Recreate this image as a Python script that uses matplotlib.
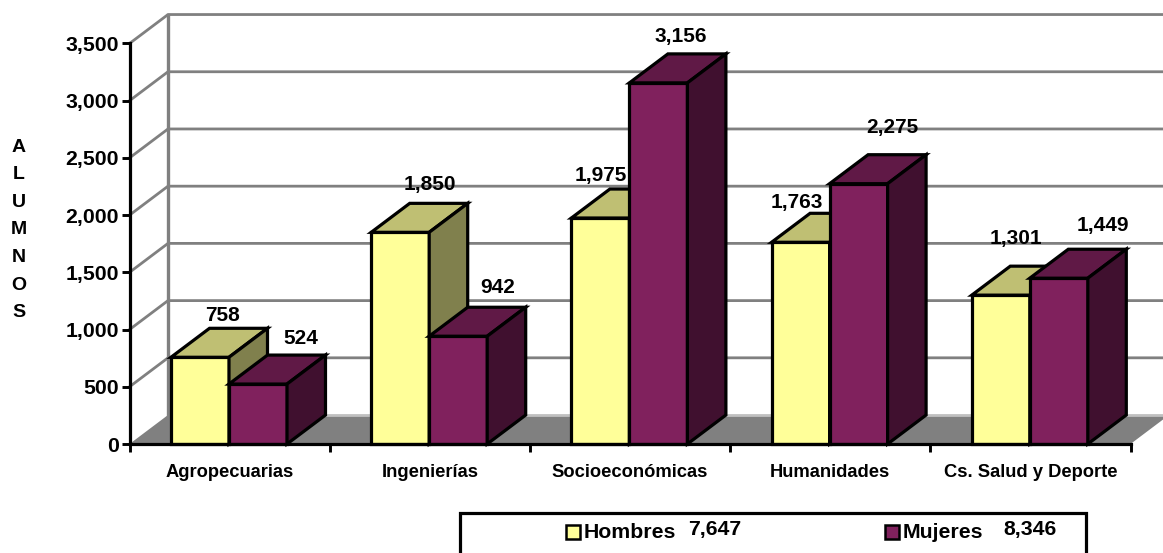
import matplotlib
matplotlib.use('Agg')
import matplotlib.pyplot as plt
from matplotlib.patches import Polygon, Rectangle

plt.rcParams['font.family'] = ['Liberation Sans', 'DejaVu Sans']
plt.rcParams['font.weight'] = 'bold'

categories = ['Agropecuarias', 'Ingenierías', 'Socioeconómicas', 'Humanidades', 'Cs. Salud y Deporte']
hombres = [758, 1850, 1975, 1763, 1301]
mujeres = [524, 942, 3156, 2275, 1449]
total_hombres = '7,647'
total_mujeres = '8,346'
y_ticks = [0, 500, 1000, 1500, 2000, 2500, 3000, 3500]

# label offsets from the top centre of each bar, in pixels
off_h = [(23, 42), (30, 48), (0, 43), (-4, 40), (15, 57)]
off_m = [(43, 46), (39, 49), (22, 46), (34, 56), (44, 53)]

W, H = 1163, 553
fig = plt.figure(figsize=(W / 100, H / 100), dpi=100)
ax = fig.add_axes([129.5 / W, (H - 444) / H, 1001 / W, 400.5 / H])
ax.set_xlim(0, 5)
ax.set_ylim(0, 3500)

# oblique depth in data units
dx = 38.5 / 200.2
dy = 29 / 401 * 3500
bar_w = 58 / 200.2
gap = 41.5 / 200.2


def poly(pts, fc, ec='black', lw=2.3, z=3):
    ax.add_patch(Polygon(pts, closed=True, fc=fc, ec=ec, lw=lw, zorder=z,
                         clip_on=False, joinstyle='miter'))


def bar3d(x, v, front, top, side, z):
    poly([(x, 0), (x + bar_w, 0), (x + bar_w, v), (x, v)], front, z=z)
    poly([(x, v), (x + bar_w, v), (x + bar_w + dx, v + dy), (x + dx, v + dy)], top, z=z)
    poly([(x + bar_w, 0), (x + bar_w + dx, dy), (x + bar_w + dx, v + dy), (x + bar_w, v)], side, z=z)


# floor and walls
grey = '#808080'
poly([(0, 0), (dx, dy), (5 + dx, dy), (5, 0)], grey, ec='none', lw=0, z=1)
ax.plot([dx, 5 + dx], [dy, dy], color='#c0c0c0', lw=2, zorder=1, clip_on=False)
for v in y_ticks[1:]:
    ax.plot([0, dx, 5 + dx], [v, v + dy, v + dy], color=grey, lw=2, zorder=1, clip_on=False)
ax.plot([dx, dx], [dy, 3500 + dy], color=grey, lw=2.4, zorder=1, clip_on=False)

for i in range(len(categories)):
    x = i + gap
    bar3d(x, hombres[i], '#FFFF99', '#BFBF73', '#80804D', 3)
    bar3d(x + bar_w, mujeres[i], '#80215D', '#601946', '#40102F', 4)
    ax.annotate(f'{hombres[i]:,}', (x + bar_w / 2, hombres[i]), xytext=off_h[i],
                textcoords='offset pixels', ha='center', va='center', fontsize=15,
                fontweight='bold', zorder=6, annotation_clip=False)
    ax.annotate(f'{mujeres[i]:,}', (x + 1.5 * bar_w, mujeres[i]), xytext=off_m[i],
                textcoords='offset pixels', ha='center', va='center', fontsize=15,
                fontweight='bold', zorder=6, annotation_clip=False)

# axes
for s in ['top', 'right']:
    ax.spines[s].set_visible(False)
for s in ['left', 'bottom']:
    ax.spines[s].set_linewidth(2.3)
    ax.spines[s].set_zorder(5)
ax.patch.set_visible(False)
ax.set_yticks(y_ticks)
ax.set_yticklabels([f'{v:,}' for v in y_ticks], fontsize=15.3, fontweight='bold')
ax.tick_params(axis='y', length=6, width=2.1, pad=1.5)
ax.set_xticks(range(6))
ax.set_xticklabels([])
ax.tick_params(axis='x', which='major', length=6, width=2.1)
ax.set_xticks([i + 0.5 for i in range(5)], minor=True)
ax.set_xticklabels(categories, minor=True, fontsize=13.2, fontweight='bold')
ax.tick_params(axis='x', which='minor', length=0, pad=14.5)

fig.text(19 / W, 1 - 230 / H, '\n'.join('ALUMNOS'), ha='center', va='center',
         fontsize=14, fontweight='bold', linespacing=1.81)

# legend box, cut by the lower edge of the picture
fig.patches.append(Rectangle((460 / W, -0.02), 626 / W, 0.02 + (H - 513) / H, transform=fig.transFigure,
                             fc='white', ec='black', lw=2.3))
for sx, col in [(566, '#FFFF99'), (885, '#80215D')]:
    fig.patches.append(Rectangle((sx / W, 1 - 539 / H), 14 / W, 14 / H, transform=fig.transFigure,
                                 fc=col, ec='black', lw=1.8))
fig.text(584 / W, 1 - 533 / H, 'Hombres', ha='left', va='center', fontsize=15.3, fontweight='bold')
fig.text(715 / W, 1 - 530 / H, total_hombres, ha='center', va='center', fontsize=15.3, fontweight='bold')
fig.text(903 / W, 1 - 533 / H, 'Mujeres', ha='left', va='center', fontsize=15.3, fontweight='bold')
fig.text(1030 / W, 1 - 530 / H, total_mujeres, ha='center', va='center', fontsize=15.3, fontweight='bold')

fig.savefig('out.png', dpi=100)
